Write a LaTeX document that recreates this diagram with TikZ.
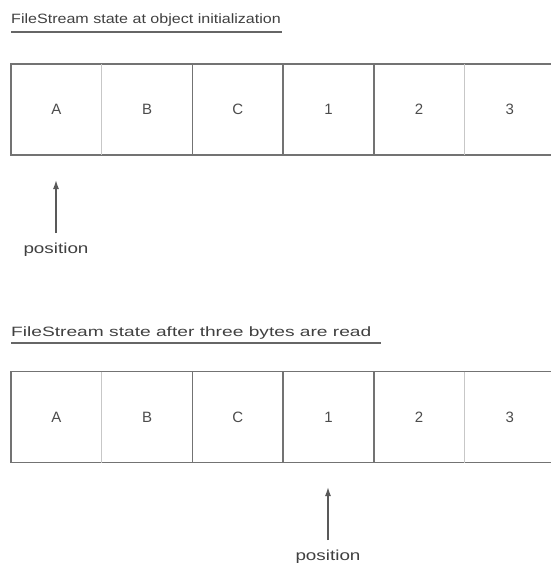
\documentclass[tikz,border=0pt]{standalone}
\usepackage{fontspec}
\setmainfont{Liberation Sans}
\usetikzlibrary{arrows.meta}
\begin{document}
\begin{tikzpicture}[x=1pt,y=-1pt,
  cell/.style={minimum width=90.7pt,minimum height=91pt,inner sep=0pt,outer sep=0pt,
    font=\fontsize{15}{15}\selectfont,text=black!70},
  frame/.style={draw=black!55,line width=1.7pt},
  faint/.style={draw=black!22,line width=1.1pt},
  title/.style={anchor=base west,inner sep=0pt,font=\fontsize{13.5}{14}\selectfont,text=black!75},
  uline/.style={draw=black!60,line width=1.4pt},
  poslabel/.style={inner sep=0pt,font=\fontsize{14.5}{15}\selectfont,text=black!75},
  posarrow/.style={draw=black!65,line width=1.4pt,-{Latex[length=9pt,width=6pt]}}]
\useasboundingbox (0,0) rectangle (550,567);
% ---- first state
\node[title] (t1) at (11,24) {\scalebox{1.19}[1]{FileStream state at object initialization}};
\draw[uline] (11,32) coordinate (u1a) -- (282,32) coordinate (u1b);
\foreach \t [count=\i from 0] in {A,B,C,1,2,3} {
  \node[cell] (a\i) at ({11+45.35+90.7*\i},109.5) {\t};
}
\draw[frame] (a5.north east) -- (a0.north west) -- (a0.south west) -- (a5.south east);
\draw[faint] (a0.north east) -- (a0.south east);
\draw[frame] (a1.north east) -- (a1.south east);
\draw[frame] (a2.north east) -- (a2.south east);
\draw[frame] (a3.north east) -- (a3.south east);
\draw[faint] (a4.north east) -- (a4.south east);
\node[poslabel] (p1) at (56,250) {\scalebox{1.3}[1]{position}};
\coordinate (p1top) at (56,180);
\draw[posarrow] (p1.north) ++(0,-10) -- (p1top);
% ---- second state
\node[title] (t2) at (11,336) {\scalebox{1.42}[1]{FileStream state after three bytes are read}};
\draw[uline] (11,343) -- (381,343);
\foreach \t [count=\i from 0] in {A,B,C,1,2,3} {
  \node[cell] (b\i) at ({11+45.35+90.7*\i},417) {\t};
}
\draw[frame] (b5.north east) -- (b0.north west) -- (b0.south west) -- (b5.south east);
\draw[faint] (b0.north east) -- (b0.south east);
\draw[frame] (b1.north east) -- (b1.south east);
\draw[frame] (b2.north east) -- (b2.south east);
\draw[frame] (b3.north east) -- (b3.south east);
\draw[faint] (b4.north east) -- (b4.south east);
\node[poslabel] (p2) at (328,557) {\scalebox{1.3}[1]{position}};
\coordinate (p2top) at (328,487);
\draw[posarrow] (p2.north) ++(0,-10) -- (p2top);
\end{tikzpicture}
\end{document}
